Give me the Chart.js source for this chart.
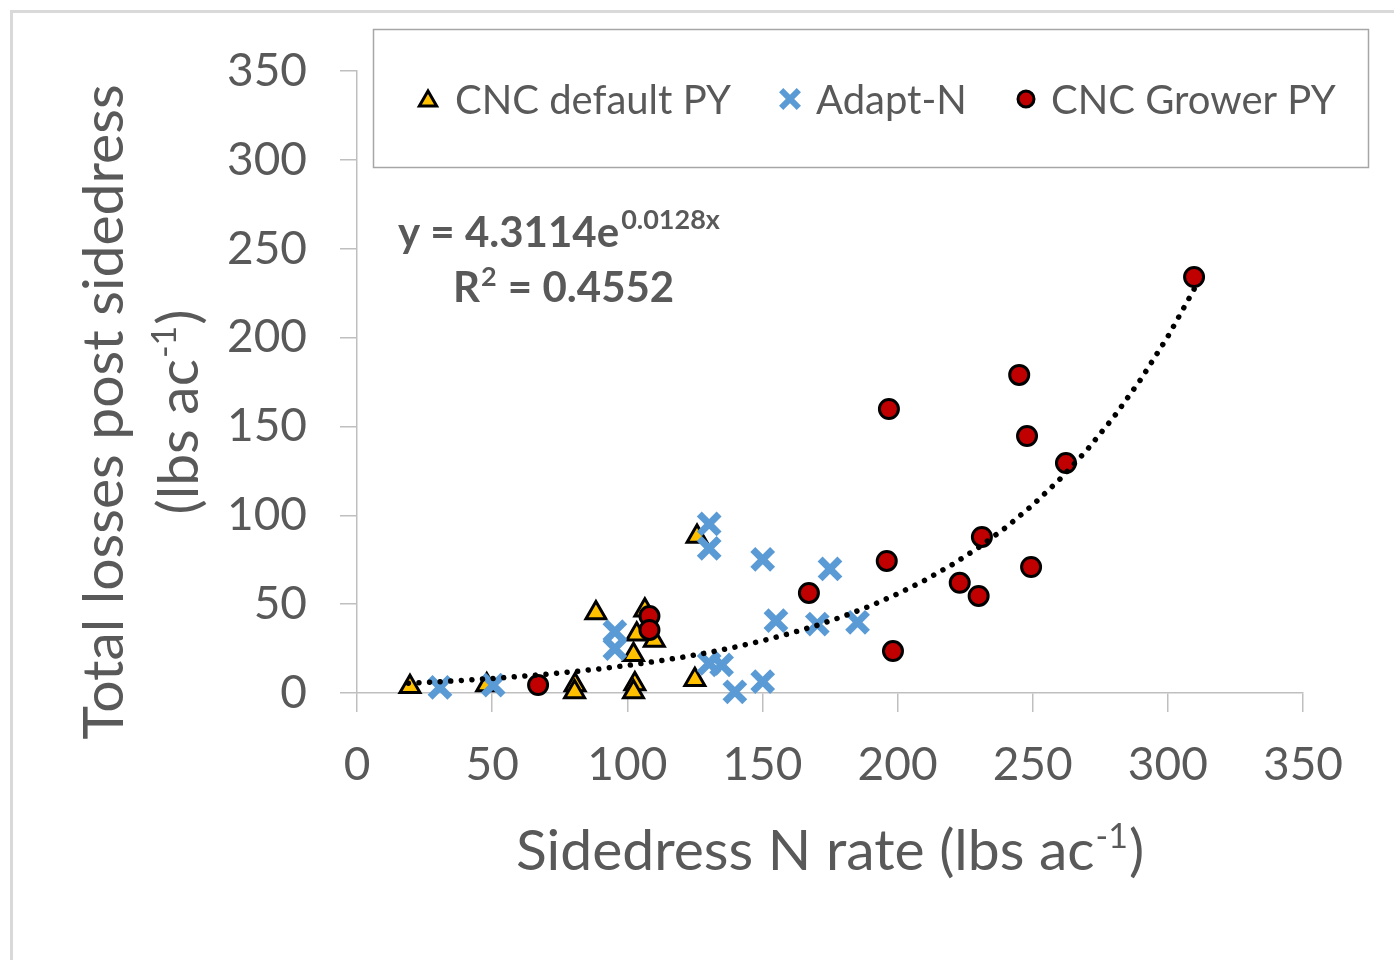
<!DOCTYPE html>
<html>
<head>
<meta charset="utf-8">
<style>
  html, body { margin: 0; padding: 0; background: #fff; }
  #wrap { width: 1394px; height: 960px; }
</style>
</head>
<body>
<div id="wrap"><canvas id="lossChart" width="1394" height="960"></canvas></div>
<script src="https://cdn.jsdelivr.net/npm/chart.js"></script>
<script>
// Sidedress N rate (lbs/ac) vs total N losses after sidedress (lbs/ac)
const defaultX = [19.6, 48, 80.7, 80.5, 88.4, 102.3, 102.8, 102.3, 103.5, 106.5, 110, 125, 125.8];
const defaultY = [3.5, 4.5, 4.5, 0.5, 45, 21.5, 5, 0.5, 33, 46.5, 29.5, 7.5, 88];

const adaptX = [30.7, 50.4, 95.4, 95.4, 130.3, 130.3, 150.1, 175, 155, 170.3, 185.2, 130.3, 134.9, 139.8, 150.1];
const adaptY = [3.2, 4.5, 34.5, 25, 95.1, 81.4, 75.2, 69.8, 40.7, 38.8, 39.8, 16.7, 15.8, 0.7, 6.4];

const growerX = [67, 108.2, 108.2, 167.2, 196.8, 196, 198.3, 223, 230, 231.2, 245, 247.9, 249.4, 262.3, 309.7];
const growerY = [4.5, 43.3, 35.5, 56.3, 159.8, 74.3, 23.6, 62, 54.6, 87.8, 179, 144.6, 70.9, 129.4, 234.1];

// exponential trendline over all points: y = a * e^(b x)
const TREND_A = 4.3114;
const TREND_B = 0.0128;
const TREND_R2 = 0.4552;
const trendX = [19, 30, 40, 50, 60, 70, 80, 90, 100, 110, 120, 130, 140, 150, 160, 170, 180, 190, 200,
                210, 220, 230, 240, 250, 260, 270, 280, 290, 300, 310];

const axisTicks = [0, 50, 100, 150, 200, 250, 300, 350];

const FONT = 'Lato, "Open Sans", sans-serif';
const TEXT = '#595959';
const AXIS = '#bfbfbf';

function pairs(xs, ys) {
    return xs.map((x, i) => ({ x: x, y: ys[i] }));
}

const trendData = trendX.map(x => ({ x: x, y: TREND_A * Math.exp(TREND_B * x) }));

const series = [
    { label: 'CNC default PY', pointStyle: 'triangle', fill: '#FFC000', stroke: '#000000', width: 3, legendRadius: 10 },
    { label: 'Adapt-N', pointStyle: 'crossRot', fill: '#5B9BD5', stroke: '#5B9BD5', width: 6, legendRadius: 12.5 },
    { label: 'CNC Grower PY', pointStyle: 'circle', fill: '#C00000', stroke: '#000000', width: 3, legendRadius: 8 }
];

// legend box, trendline equation and axis titles are drawn by hand
const decorations = {
    id: 'decorations',
    beforeDraw(chart) {
        const ctx = chart.ctx;
        ctx.save();
        ctx.fillStyle = '#ffffff';
        ctx.fillRect(0, 0, chart.width, chart.height);
        ctx.strokeStyle = '#d9d9d9';
        ctx.lineWidth = 3;
        ctx.strokeRect(11.5, 11.5, 3000, 3000);
        ctx.restore();
    },
    afterDraw(chart) {
        const ctx = chart.ctx;
        ctx.save();

        // legend
        ctx.fillStyle = '#ffffff';
        ctx.fillRect(373, 29, 995, 138);
        ctx.strokeStyle = '#a6a6a6';
        ctx.lineWidth = 1.5;
        ctx.strokeRect(373.5, 29.5, 995, 138);

        const markerX = [428, 790, 1026];
        const labelX = [455, 816, 1051];
        ctx.font = '40px ' + FONT;
        ctx.textBaseline = 'middle';
        ctx.textAlign = 'left';
        series.forEach((s, i) => {
            ctx.fillStyle = s.fill;
            ctx.strokeStyle = s.stroke;
            ctx.lineWidth = s.width;
            Chart.helpers.drawPoint(ctx, {
                pointStyle: s.pointStyle, radius: s.legendRadius, rotation: 0, borderWidth: s.width
            }, markerX[i], s.pointStyle === 'triangle' ? 101 : 99);
            ctx.fillStyle = TEXT;
            ctx.fillText(s.label, labelX[i], 101);
        });

        // trendline equation
        ctx.fillStyle = TEXT;
        ctx.textBaseline = 'alphabetic';
        ctx.font = 'bold 42px ' + FONT;
        const eq = 'y = ' + TREND_A + 'e';
        ctx.fillText(eq, 398, 247);
        const eqW = ctx.measureText(eq).width;
        ctx.font = 'bold 27px ' + FONT;
        ctx.fillText(TREND_B + 'x', 398 + eqW + 2, 229);

        ctx.font = 'bold 42px ' + FONT;
        ctx.fillText('R', 453, 302);
        const rW = ctx.measureText('R').width;
        ctx.font = 'bold 27px ' + FONT;
        ctx.fillText('2', 453 + rW + 1, 286);
        const twoW = ctx.measureText('2').width;
        ctx.font = 'bold 42px ' + FONT;
        ctx.fillText(' = ' + TREND_R2, 453 + rW + twoW + 2, 302);

        // x axis title
        drawTitle(ctx, 830, 850, 0, 'Sidedress N rate (lbs ac');
        // y axis title, two lines
        drawTitle(ctx, 103, 412, -Math.PI / 2, 'Total losses post sidedress', true);
        drawTitle(ctx, 178, 412, -Math.PI / 2, '(lbs ac');

        ctx.restore();
    }
};

// title text with a trailing "-1" superscript unless plain is set
function drawTitle(ctx, cx, cy, angle, text, plain) {
    const big = '57px ' + FONT;
    const small = '34px ' + FONT;
    ctx.save();
    ctx.translate(cx, cy);
    ctx.rotate(angle);
    ctx.fillStyle = TEXT;
    ctx.textBaseline = 'alphabetic';
    ctx.textAlign = 'left';
    ctx.font = big;
    const w1 = ctx.measureText(text).width;
    let total = w1;
    let w2 = 0, w3 = 0;
    if (!plain) {
        ctx.font = small;
        w2 = ctx.measureText('-1').width;
        ctx.font = big;
        w3 = ctx.measureText(')').width;
        total += w2 + w3 + 2;
    }
    const x0 = -total / 2;
    const base = 20;
    ctx.font = big;
    ctx.fillText(text, x0, base);
    if (!plain) {
        ctx.font = small;
        ctx.fillText('-1', x0 + w1 + 1, base - 22);
        ctx.font = big;
        ctx.fillText(')', x0 + w1 + w2 + 2, base);
    }
    ctx.restore();
}

const ctx = document.getElementById('lossChart');

new Chart(ctx, {
    type: 'scatter',
    data: {
        datasets: [{
            label: 'Trend',
            data: trendData,
            showLine: true,
            borderColor: '#000000',
            borderWidth: 5.5,
            borderDash: [0.01, 10.6],
            borderCapStyle: 'round',
            pointRadius: 0,
            order: 0,
            clip: false
        }, {
            label: series[2].label,
            data: pairs(growerX, growerY),
            pointStyle: 'circle',
            pointRadius: 9.5,
            backgroundColor: series[2].fill,
            borderColor: series[2].stroke,
            borderWidth: 3,
            order: 1,
            clip: false
        }, {
            label: series[1].label,
            data: pairs(adaptX, adaptY),
            pointStyle: 'crossRot',
            pointRadius: 14,
            backgroundColor: series[1].fill,
            borderColor: series[1].stroke,
            borderWidth: 7,
            order: 2,
            clip: false
        }, {
            label: series[0].label,
            data: pairs(defaultX, defaultY),
            pointStyle: 'triangle',
            pointRadius: 11.5,
            backgroundColor: series[0].fill,
            borderColor: series[0].stroke,
            borderWidth: 3,
            order: 3,
            clip: false
        }]
    },
    options: {
        responsive: false,
        animation: false,
        events: [],
        layout: {
            padding: { top: 71, right: 91, left: 0, bottom: 0 }
        },
        plugins: {
            legend: { display: false },
            tooltip: { enabled: false }
        },
        scales: {
            x: {
                type: 'linear',
                min: 0,
                max: 350,
                afterFit: function(scale) { scale.height = 267; },
                afterBuildTicks: function(scale) { scale.ticks = axisTicks.map(v => ({ value: v })); },
                grid: { drawOnChartArea: false, drawTicks: true, tickLength: 19, color: AXIS, lineWidth: 1.5 },
                border: { color: AXIS, width: 1.5 },
                ticks: {
                    padding: 26,
                    color: TEXT,
                    font: { size: 46, family: FONT }
                }
            },
            y: {
                type: 'linear',
                min: 0,
                max: 350,
                afterFit: function(scale) { scale.width = 357; },
                afterBuildTicks: function(scale) { scale.ticks = axisTicks.map(v => ({ value: v })); },
                grid: { drawOnChartArea: false, drawTicks: true, tickLength: 17, color: AXIS, lineWidth: 1.5 },
                border: { color: AXIS, width: 1.5 },
                ticks: {
                    padding: 33,
                    color: TEXT,
                    font: { size: 46, family: FONT }
                }
            }
        }
    },
    plugins: [decorations]
});
</script>
</body>
</html>
